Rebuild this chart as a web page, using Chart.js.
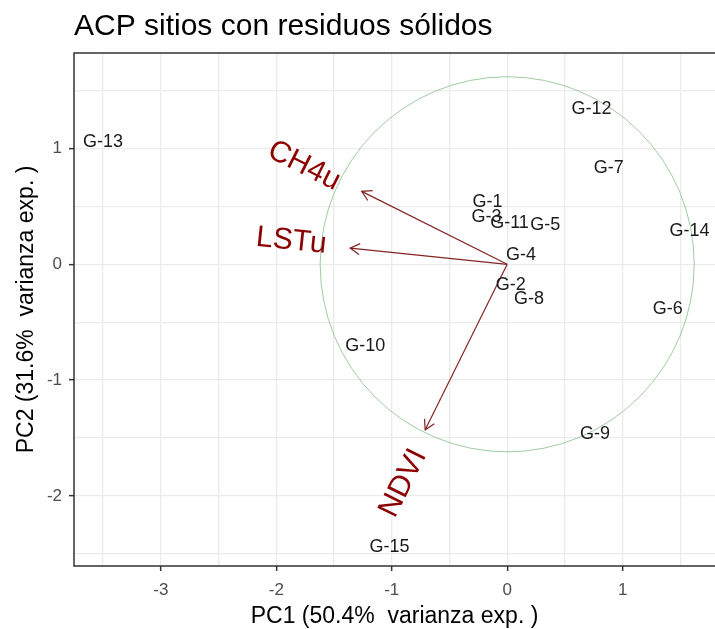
<!DOCTYPE html>
<html>
<head>
<meta charset="utf-8">
<script src="https://cdn.jsdelivr.net/npm/chart.js@4.4.1/dist/chart.umd.min.js"></script>
<style>
  body { margin: 0; background: #fff; }
  #wrap { width: 715px; height: 629px; }
</style>
</head>
<body>
<div id="wrap"><canvas id="grafico"></canvas></div>
<script>
// Sitios (scores PC1 / PC2)
const sitios = ["G-1", "G-2", "G-3", "G-4", "G-5", "G-6", "G-7", "G-8", "G-9", "G-10", "G-11", "G-12", "G-13", "G-14", "G-15"];
const pc1 = [-0.17, 0.03, -0.18, 0.12, 0.33, 1.39, 0.88, 0.19, 0.76, -1.23, 0.02, 0.73, -3.50, 1.58, -1.02];
const pc2 = [0.54, -0.18, 0.41, 0.08, 0.34, -0.39, 0.83, -0.30, -1.47, -0.71, 0.36, 1.34, 1.06, 0.29, -2.44];

// Variables (flechas) y posicion de sus etiquetas
const variables = ["CH4u", "LSTu", "NDVI"];
const cargaX = [-1.26, -1.36, -0.71];
const cargaY = [0.63, 0.14, -1.43];
const etiquetaX = [-1.76, -1.87, -0.90];
const etiquetaY = [0.85, 0.20, -1.89];

// Circulo de correlacion
const radioCirculo = 1.62;

// Limites de los ejes
const limitesX = [-3.752, 1.80];
const limitesY = [-2.606, 1.825];

const fuente = '"Liberation Sans", Arial, sans-serif';
const colorFlecha = "#832424";
const colorVariable = "#8b0000";

const esEntero = (v) => Math.abs(v - Math.round(v)) < 1e-9;

const capaBiplot = {
  id: "capaBiplot",
  beforeDatasetsDraw(chart) {
    const { ctx } = chart;
    const sx = chart.scales.x, sy = chart.scales.y;
    const cx = sx.getPixelForValue(0), cy = sy.getPixelForValue(0);
    const rx = sx.getPixelForValue(radioCirculo) - cx;
    const ry = cy - sy.getPixelForValue(radioCirculo);
    ctx.save();
    ctx.beginPath();
    ctx.ellipse(cx, cy, rx, ry, 0, 0, Math.PI * 2);
    ctx.strokeStyle = "rgba(130,185,130,0.75)";
    ctx.lineWidth = 1;
    ctx.stroke();
    ctx.restore();
  },
  afterDatasetsDraw(chart) {
    const { ctx } = chart;
    const sx = chart.scales.x, sy = chart.scales.y;
    ctx.save();
    // puntas de flecha
    variables.forEach((v, i) => {
      const x0 = sx.getPixelForValue(0), y0 = sy.getPixelForValue(0);
      const x1 = sx.getPixelForValue(cargaX[i]), y1 = sy.getPixelForValue(cargaY[i]);
      const ang = Math.atan2(y1 - y0, x1 - x0);
      const len = 11, abre = Math.PI / 6;
      ctx.beginPath();
      ctx.moveTo(x1 - len * Math.cos(ang - abre), y1 - len * Math.sin(ang - abre));
      ctx.lineTo(x1, y1);
      ctx.lineTo(x1 - len * Math.cos(ang + abre), y1 - len * Math.sin(ang + abre));
      ctx.strokeStyle = colorFlecha;
      ctx.lineWidth = 1.2;
      ctx.stroke();
    });
    // etiquetas de sitios
    const meta = chart.getDatasetMeta(0);
    ctx.font = "18px " + fuente;
    ctx.fillStyle = "#1a1a1a";
    ctx.textAlign = "center";
    ctx.textBaseline = "middle";
    meta.data.forEach((pt, i) => {
      ctx.fillText(sitios[i], pt.x, pt.y);
    });
    // etiquetas de variables
    ctx.font = "30px " + fuente;
    ctx.fillStyle = colorVariable;
    variables.forEach((v, i) => {
      const px = sx.getPixelForValue(etiquetaX[i]);
      const py = sy.getPixelForValue(etiquetaY[i]);
      const dx = sx.getPixelForValue(cargaX[i]) - sx.getPixelForValue(0);
      const dy = sy.getPixelForValue(cargaY[i]) - sy.getPixelForValue(0);
      let ang = Math.atan2(dy, dx);
      if (dx < 0) ang += Math.PI;
      ctx.save();
      ctx.translate(px, py);
      ctx.rotate(ang);
      ctx.fillText(v, 0, 0);
      ctx.restore();
    });
    ctx.restore();
  },
  afterDraw(chart) {
    const { ctx, chartArea } = chart;
    const { left, top, right, bottom } = chartArea;
    ctx.save();
    // borde del panel (el lado derecho queda fuera de la imagen)
    ctx.strokeStyle = "#333333";
    ctx.lineWidth = 1.5;
    ctx.beginPath();
    ctx.moveTo(right + 5, top);
    ctx.lineTo(left, top);
    ctx.lineTo(left, bottom);
    ctx.lineTo(right + 5, bottom);
    ctx.stroke();
    ctx.font = "30px " + fuente;
    ctx.fillStyle = "#000";
    ctx.textAlign = "left";
    ctx.textBaseline = "alphabetic";
    ctx.fillText("ACP sitios con residuos sólidos", left, 35);
    ctx.restore();
  }
};

const datasets = [
  {
    label: "sitios",
    data: sitios.map((s, i) => ({ x: pc1[i], y: pc2[i] })),
    pointRadius: 0,
    showLine: false
  }
];
variables.forEach((v, i) => {
  datasets.push({
    label: v,
    data: [{ x: 0, y: 0 }, { x: cargaX[i], y: cargaY[i] }],
    showLine: true,
    borderColor: colorFlecha,
    borderWidth: 1.2,
    pointRadius: 0
  });
});

const ejeComun = (titulo) => ({
  type: "linear",
  grid: {
    color: "#ebebeb",
    lineWidth: 1.3,
    drawTicks: true,
    tickLength: 5,
    tickWidth: 1.5,
    tickColor: (c) => (c.tick && esEntero(c.tick.value) ? "#333333" : "rgba(0,0,0,0)")
  },
  border: { display: false },
  ticks: {
    stepSize: 0.5,
    includeBounds: false,
    autoSkip: false,
    maxRotation: 0,
    color: "#4d4d4d",
    font: { family: fuente, size: 17 },
    callback: (v) => (esEntero(v) ? String(Math.round(v)) : "")
  },
  title: {
    display: true,
    text: titulo,
    color: "#000",
    font: { family: fuente, size: 23, lineHeight: 1.1 }
  }
});

const escalaX = ejeComun("PC1 (50.4%  varianza exp. )");
escalaX.min = limitesX[0];
escalaX.max = limitesX[1];
escalaX.ticks.padding = 9;
escalaX.title.padding = { top: 0, bottom: 0 };
escalaX.afterFit = (s) => { s.height = 63; };

const escalaY = ejeComun("PC2 (31.6%  varianza exp. )");
escalaY.min = limitesY[0];
escalaY.max = limitesY[1];
escalaY.ticks.padding = 7;
escalaY.title.padding = { top: 14, bottom: 0 };
escalaY.afterFit = (s) => { s.width = 74; };

new Chart(document.getElementById("grafico").getContext("2d"), {
  type: "scatter",
  data: { datasets: datasets },
  options: {
    responsive: true,
    maintainAspectRatio: false,
    animation: false,
    layout: { padding: { top: 53, left: 0, right: 0, bottom: 0 } },
    plugins: {
      legend: { display: false },
      tooltip: { enabled: false }
    },
    scales: { x: escalaX, y: escalaY }
  },
  plugins: [capaBiplot]
});
</script>
</body>
</html>
